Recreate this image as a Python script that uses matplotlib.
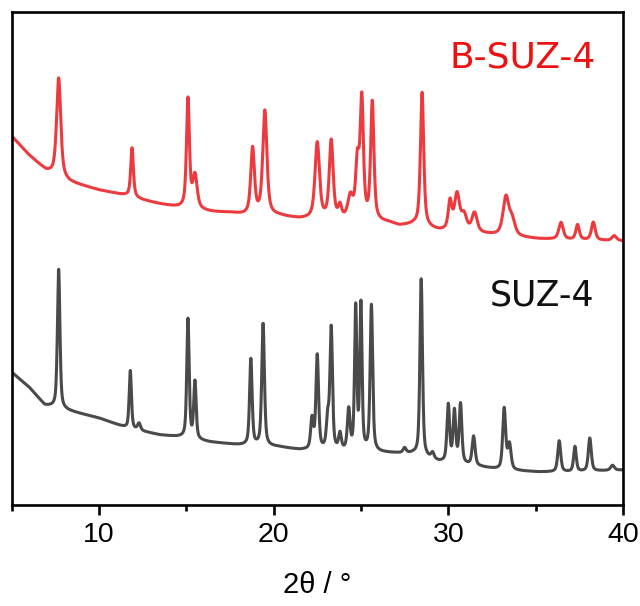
import numpy as np
import matplotlib
matplotlib.use("Agg")
import matplotlib.pyplot as plt
from matplotlib.ticker import MultipleLocator

# ---- B-SUZ-4 pattern: baseline knots and reflections ----
bsuz_base_2theta = [5.0, 6.0, 7.0, 8.3, 10.0, 11.7, 12.5, 13.5, 14.7, 16.5, 17.6, 18.3,
                    20.3, 21.5, 23.0, 26.6, 27.2, 28.0, 29.5, 31.0, 32.9, 35.2, 37.0, 40.0]
bsuz_base_int = [375, 356, 340, 329, 321, 315, 311, 307, 303, 299, 298, 296,
                 295, 292, 291, 288, 285, 286, 280, 279, 275, 272, 271, 270]
bsuz_peak_pos = [7.7, 11.9, 15.1, 15.5, 18.8, 19.5, 22.5, 23.3, 23.8, 24.4, 24.8, 25.05,
                 25.65, 28.5, 30.1, 30.5, 30.9, 31.5, 33.3, 33.65, 36.45, 37.4, 38.3, 39.5]
bsuz_peak_height = [99, 49, 109, 33, 66, 104, 76, 78, 12, 22, 55, 118,
                    118, 134, 28, 36, 15, 19, 38, 15, 17, 15, 18, 5]
bsuz_peak_fwhm = [0.28, 0.18, 0.2, 0.3, 0.25, 0.28, 0.3, 0.26, 0.22, 0.35, 0.24, 0.22,
                  0.22, 0.22, 0.24, 0.35, 0.35, 0.35, 0.4, 0.4, 0.3, 0.24, 0.26, 0.3]

# ---- SUZ-4 pattern ----
suz_base_2theta = [5.0, 6.0, 6.9, 8.1, 10.0, 11.6, 13.5, 14.6, 16.3, 18.0, 20.3, 21.5,
                   23.0, 26.6, 28.0, 29.5, 31.5, 33.0, 35.2, 37.0, 40.0]
suz_base_int = [139, 124, 106, 101, 93, 83, 76, 74, 69, 66, 64, 61,
                60, 58, 57, 49, 45, 41, 39, 39, 41]
suz_peak_pos = [7.7, 11.8, 12.3, 15.1, 15.5, 18.7, 19.4, 22.2, 22.5, 23.1, 23.3, 23.8,
                24.3, 24.7, 25.0, 25.6, 27.5, 28.45, 29.1, 30.0, 30.35, 30.7, 31.45,
                33.2, 33.5, 36.35, 37.25, 38.1, 39.4]
suz_peak_height = [139, 58, 7, 119, 57, 86, 122, 30, 94, 30, 121, 16,
                   40, 142, 145, 146, 5, 177, 6, 57, 51, 59, 29,
                   61, 25, 31, 25, 33, 5]
suz_peak_fwhm = [0.17, 0.15, 0.2, 0.16, 0.16, 0.17, 0.18, 0.18, 0.18, 0.18, 0.17, 0.18,
                 0.18, 0.15, 0.15, 0.17, 0.2, 0.17, 0.2, 0.18, 0.18, 0.18, 0.2,
                 0.2, 0.22, 0.2, 0.18, 0.2, 0.25]

x_ticks = [10, 20, 30, 40]
x_label = "2θ / °"
labels = ["B-SUZ-4", "SUZ-4"]

W, H = 640, 606


def pattern(two_theta, base_x, base_y, pos, height, fwhm, eta=0.5):
    """Pseudo-Voigt reflections on top of a piecewise baseline."""
    y = np.interp(two_theta, base_x, base_y)
    for p, h, w in zip(pos, height, fwhm):
        d = (two_theta - p) / (w / 2.0)
        lor = 1.0 / (1.0 + d ** 2)
        gau = np.exp(-np.log(2.0) * d ** 2)
        y = y + h * (eta * lor + (1 - eta) * gau)
    return y


tt = np.arange(5.0, 40.0001, 0.01)
y_b = pattern(tt, bsuz_base_2theta, bsuz_base_int, bsuz_peak_pos, bsuz_peak_height,
              bsuz_peak_fwhm, eta=0.65)
y_s = pattern(tt, suz_base_2theta, suz_base_int, suz_peak_pos, suz_peak_height,
              suz_peak_fwhm, eta=0.55)

fig = plt.figure(figsize=(W / 100, H / 100), dpi=100)
left, right, top, bottom = 11.5, 623, 12, 505
ax = fig.add_axes([left / W, (H - bottom) / H, (right - left) / W, (bottom - top) / H])

ax.plot(tt, y_b, color="#ec3a3e", lw=2.2, solid_joinstyle="round")
ax.plot(tt, y_s, color="#4a4a4a", lw=2.2, solid_joinstyle="round")

ax.set_xlim(5, 40)
ax.set_ylim(511 - bottom, 511 - top)
ax.set_yticks([])
ax.set_xticks(x_ticks)
ax.xaxis.set_minor_locator(MultipleLocator(5))
for s in ax.spines.values():
    s.set_linewidth(1.9)
ax.tick_params(axis="x", which="major", direction="out", length=7.5, width=1.9,
               labelsize=20.5, pad=4.5)
ax.tick_params(axis="x", which="minor", direction="out", length=4, width=1.9)
for t in ax.get_xticklabels():
    t.set_fontfamily("Liberation Sans")
ax.set_xlabel(x_label, fontsize=21, family="Liberation Sans", labelpad=17)

fig.text(522.5 / W, 1 - 58 / H, labels[0], color="#ee1111", fontsize=26,
         family=["DejaVu Sans"], ha="center", va="center")
fig.text(542.5 / W, 1 - 295 / H, labels[1], color="#111111", fontsize=25,
         family=["DejaVu Sans"], ha="center", va="center")

fig.savefig("out.png", dpi=100)
